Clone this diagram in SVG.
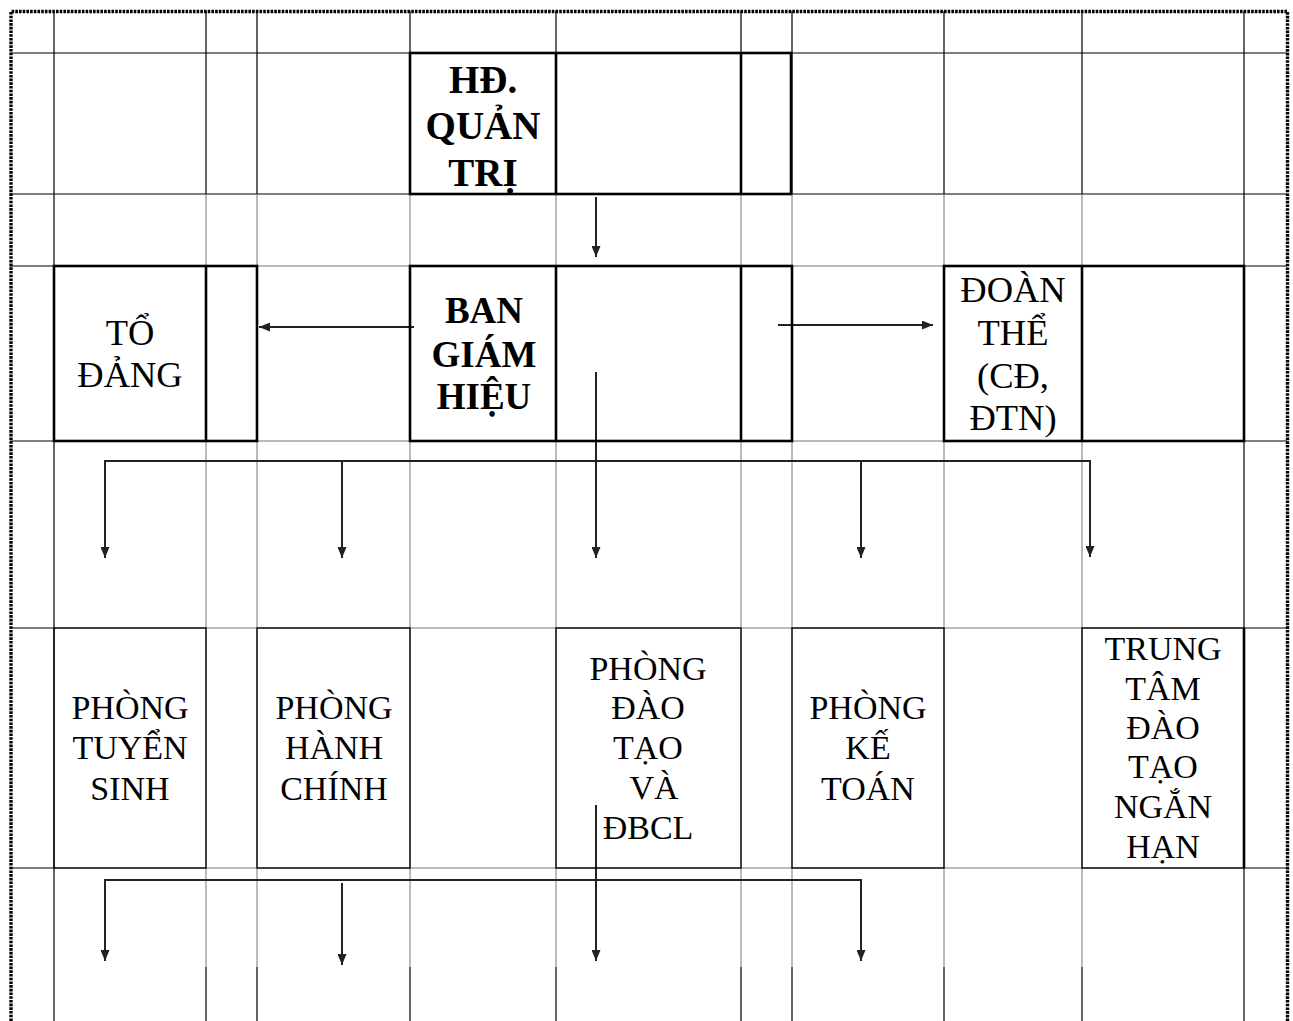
<svg xmlns="http://www.w3.org/2000/svg" width="1293" height="1021" viewBox="0 0 1293 1021">
  <style>
    .g { stroke: #000; stroke-width: 1.2; fill: none; }
    .l { stroke: #777; stroke-width: 1; fill: none; }
    .thick { stroke: #000; stroke-width: 2.6; fill: none; }
    .thin { stroke: #000; stroke-width: 1.3; fill: none; }
    .frame { stroke: #000; stroke-width: 3.4; fill: none; stroke-dasharray: 2.6 1.1; }
    .con { stroke: #222; stroke-width: 2; fill: none; }
    .arr { marker-end: url(#head); }
    text { font-family: "Liberation Serif", "Times New Roman", serif; fill: #000; text-anchor: middle; }
    .b { font-weight: bold; font-size: 37px; }
    .bt { font-weight: bold; font-size: 39px; }
    .r { font-size: 36.5px; }
    .s { font-size: 34px; }
  </style>
  <defs>
    <marker id="head" viewBox="0 0 11 9" refX="11" refY="4.5" markerWidth="11" markerHeight="9" markerUnits="userSpaceOnUse" orient="auto">
      <path d="M0,0 L11,4.5 L0,9 z" fill="#222"/>
    </marker>
  </defs>
  <rect width="1293" height="1021" fill="#fff"/>

  <!-- table grid -->
  <g id="grid">
    <line class="g" x1="10" y1="53" x2="1287" y2="53"/>
    <line class="g" x1="10" y1="194" x2="1287" y2="194"/>
    <line class="l" x1="54" y1="266" x2="1244" y2="266"/>
    <line class="g" x1="10" y1="266" x2="54" y2="266"/>
    <line class="g" x1="1244" y1="266" x2="1287" y2="266"/>
    <line class="l" x1="54" y1="441" x2="1244" y2="441"/>
    <line class="g" x1="10" y1="441" x2="54" y2="441"/>
    <line class="g" x1="1244" y1="441" x2="1287" y2="441"/>
    <line class="l" x1="54" y1="628" x2="1244" y2="628"/>
    <line class="g" x1="10" y1="628" x2="54" y2="628"/>
    <line class="g" x1="1244" y1="628" x2="1287" y2="628"/>
    <line class="l" x1="54" y1="868" x2="1244" y2="868"/>
    <line class="g" x1="10" y1="868" x2="54" y2="868"/>
    <line class="g" x1="1244" y1="868" x2="1287" y2="868"/>

    <line class="g" x1="54" y1="11" x2="54" y2="1021"/>
    <line class="g" x1="1244" y1="11" x2="1244" y2="1021"/>
    <!-- inner columns: dark at top and bottom, grey in between -->
    <path class="g" d="M206,11 V194 M257,11 V194 M410,11 V194 M556,11 V194 M741,11 V194 M792,11 V194 M944,11 V194 M1082,11 V194"/>
    <path class="l" d="M206,194 V967 M257,194 V967 M410,194 V967 M556,194 V967 M741,194 V967 M792,194 V967 M944,194 V967 M1082,194 V967"/>
    <path class="g" d="M206,967 V1021 M257,967 V1021 M410,967 V1021 M556,967 V1021 M741,967 V1021 M792,967 V1021 M944,967 V1021 M1082,967 V1021"/>

    <!-- dotted outer frame -->
    <path class="frame" d="M11,1021 V11.5 H1287.5 V1021"/>
  </g>

  <!-- connectors -->
  <g id="connectors">
    <line class="con arr" x1="596" y1="197" x2="596" y2="257"/>
    <line class="con arr" x1="414" y1="327" x2="259" y2="327"/>
    <line class="con arr" x1="778" y1="325" x2="933" y2="325"/>
    <line class="con arr" x1="596" y1="372" x2="596" y2="558"/>

    <line class="con" x1="104" y1="461" x2="1091" y2="461"/>
    <line class="con arr" x1="105" y1="460" x2="105" y2="558"/>
    <line class="con arr" x1="342" y1="461" x2="342" y2="558"/>
    <line class="con arr" x1="861" y1="461" x2="861" y2="558"/>
    <line class="con arr" x1="1090" y1="460" x2="1090" y2="557"/>

    <line class="con" x1="104" y1="880" x2="862" y2="880"/>
    <line class="con arr" x1="105" y1="879" x2="105" y2="961"/>
    <line class="con arr" x1="342" y1="883" x2="342" y2="965"/>
    <line class="con arr" x1="861" y1="879" x2="861" y2="961"/>
    <line class="con arr" x1="596" y1="805" x2="596" y2="961"/>
  </g>

  <!-- nodes -->
  <g id="hd-quan-tri">
    <rect class="thick" x="410" y="53" width="381" height="141"/>
    <path class="thick" d="M556,53 V194 M741,53 V194"/>
    <text class="bt" x="483" y="93">HĐ.</text>
    <text class="bt" x="483" y="139">QUẢN</text>
    <text class="bt" x="483" y="186">TRỊ</text>
  </g>

  <g id="ban-giam-hieu">
    <rect class="thick" x="410" y="266" width="382" height="175"/>
    <path class="thick" d="M556,266 V441 M741,266 V441"/>
    <text class="b" x="484" y="323">BAN</text>
    <text class="b" x="484" y="367">GIÁM</text>
    <text class="b" x="484" y="409">HIỆU</text>
  </g>

  <g id="to-dang">
    <rect class="thick" x="54" y="266" width="203" height="175"/>
    <path class="thick" d="M206,266 V441"/>
    <text class="r" x="130" y="345">TỔ</text>
    <text class="r" x="130" y="387">ĐẢNG</text>
  </g>

  <g id="doan-the">
    <rect class="thick" x="944" y="266" width="300" height="175"/>
    <path class="thick" d="M1082,266 V441"/>
    <text class="r" x="1013" y="302">ĐOÀN</text>
    <text class="r" x="1013" y="345">THỂ</text>
    <text class="r" x="1013" y="388">(CĐ,</text>
    <text class="r" x="1013" y="430">ĐTN)</text>
  </g>

  <g id="phong-tuyen-sinh">
    <rect class="thin" x="54" y="628" width="152" height="240"/>
    <text class="s" x="130" y="719">PHÒNG</text>
    <text class="s" x="130" y="759">TUYỂN</text>
    <text class="s" x="130" y="800">SINH</text>
  </g>

  <g id="phong-hanh-chinh">
    <rect class="thin" x="257" y="628" width="153" height="240"/>
    <text class="s" x="334" y="719">PHÒNG</text>
    <text class="s" x="334" y="759">HÀNH</text>
    <text class="s" x="334" y="800">CHÍNH</text>
  </g>

  <g id="phong-dao-tao">
    <rect class="thin" x="556" y="628" width="185" height="240"/>
    <text class="s" x="648" y="680">PHÒNG</text>
    <text class="s" x="648" y="719">ĐÀO</text>
    <text class="s" x="648" y="759">TẠO</text>
    <text class="s" x="654" y="799">VÀ</text>
    <text class="s" x="648" y="839">ĐBCL</text>
  </g>

  <g id="phong-ke-toan">
    <rect class="thin" x="792" y="628" width="152" height="240"/>
    <text class="s" x="868" y="719">PHÒNG</text>
    <text class="s" x="868" y="759">KẾ</text>
    <text class="s" x="868" y="800">TOÁN</text>
  </g>

  <g id="trung-tam">
    <rect class="thin" x="1082" y="628" width="162" height="240"/>
    <path class="thick" d="M1244,628 V868"/>
    <text class="s" x="1163" y="660">TRUNG</text>
    <text class="s" x="1163" y="700">TÂM</text>
    <text class="s" x="1163" y="739">ĐÀO</text>
    <text class="s" x="1163" y="778">TẠO</text>
    <text class="s" x="1163" y="818">NGẮN</text>
    <text class="s" x="1163" y="858">HẠN</text>
  </g>
</svg>
